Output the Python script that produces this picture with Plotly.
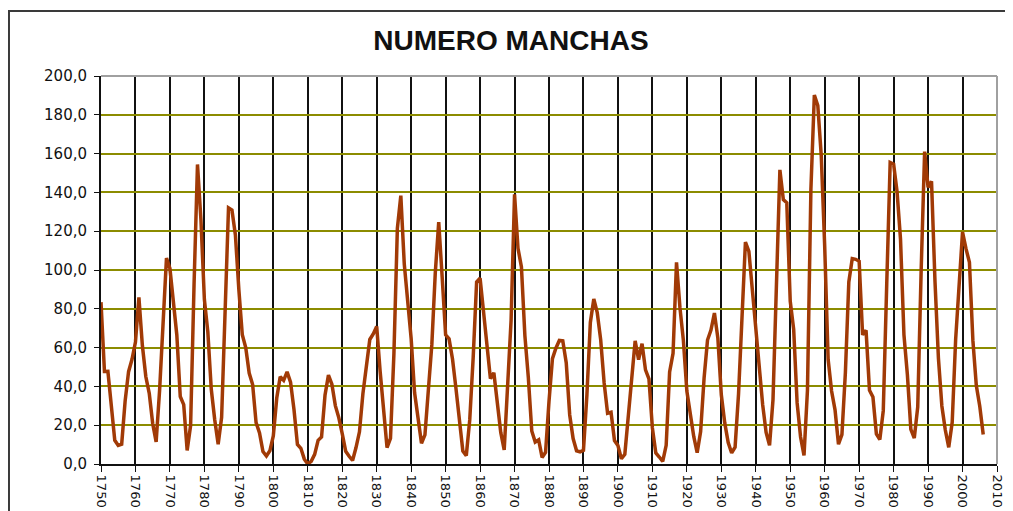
import plotly.graph_objects as go

# ───────────────────────── DATA ─────────────────────────

years = list(range(1750, 2007))

manchas = [
    83.4, 47.7, 47.8, 30.7, 12.2, 9.6, 10.2, 32.4, 47.6, 54.0,      # 1750
    62.9, 85.9, 61.2, 45.1, 36.4, 20.9, 11.4, 37.8, 69.8, 106.1,    # 1760
    100.8, 81.6, 66.5, 34.8, 30.6, 7.0, 19.8, 92.5, 154.4, 125.9,   # 1770
    84.8, 68.1, 38.5, 22.8, 10.2, 24.1, 82.9, 132.0, 130.9, 118.1,  # 1780
    89.9, 66.6, 60.0, 46.9, 41.0, 21.3, 16.0, 6.4, 4.1, 6.8,        # 1790
    14.5, 34.0, 45.0, 43.1, 47.5, 42.2, 28.1, 10.1, 8.1, 2.5,       # 1800
    0.0, 1.4, 5.0, 12.2, 13.9, 35.4, 45.8, 41.1, 30.1, 23.9,        # 1810
    15.6, 6.6, 4.0, 1.8, 8.5, 16.6, 36.3, 49.6, 64.2, 67.0,         # 1820
    70.9, 47.8, 27.5, 8.5, 13.2, 56.9, 121.5, 138.3, 103.2, 85.7,   # 1830
    64.6, 36.7, 24.2, 10.7, 15.0, 40.1, 61.5, 98.5, 124.7, 96.3,    # 1840
    66.6, 64.5, 54.1, 39.0, 20.6, 6.7, 4.3, 22.7, 54.8, 93.8,       # 1850
    95.8, 77.2, 59.1, 44.0, 47.0, 30.5, 16.3, 7.3, 37.6, 74.0,      # 1860
    139.0, 111.2, 101.6, 66.2, 44.7, 17.0, 11.3, 12.4, 3.4, 6.0,    # 1870
    32.3, 54.3, 59.7, 63.7, 63.5, 52.2, 25.4, 13.1, 6.8, 6.3,       # 1880
    7.1, 35.6, 73.0, 85.1, 78.0, 64.0, 41.8, 26.2, 26.7, 12.1,      # 1890
    9.5, 2.7, 5.0, 24.4, 42.0, 63.5, 53.8, 62.0, 48.5, 43.9,        # 1900
    18.6, 5.7, 3.6, 1.4, 9.6, 47.4, 57.1, 103.9, 80.6, 63.6,        # 1910
    37.6, 26.1, 14.2, 5.8, 16.7, 44.3, 63.9, 69.0, 77.8, 64.9,      # 1920
    35.7, 21.2, 11.1, 5.7, 8.7, 36.1, 79.7, 114.4, 109.6, 88.8,     # 1930
    67.8, 47.5, 30.6, 16.3, 9.6, 33.2, 92.6, 151.6, 136.3, 134.7,   # 1940
    83.9, 69.4, 31.5, 13.9, 4.4, 38.0, 141.7, 190.2, 184.8, 159.0,  # 1950
    112.3, 53.9, 37.6, 27.9, 10.2, 15.1, 47.0, 93.8, 105.9, 105.5,  # 1960
    104.5, 66.6, 68.9, 38.0, 34.5, 15.5, 12.6, 27.5, 92.5, 155.4,   # 1970
    154.6, 140.4, 115.9, 66.6, 45.9, 17.9, 13.4, 29.4, 100.2, 161.0,  # 1980
    142.6, 145.7, 94.3, 54.6, 29.9, 17.5, 8.6, 21.5, 64.3, 93.3,    # 1990
    119.6, 111.0, 104.0, 63.7, 40.4, 29.8, 15.2,                    # 2000
]

x_ticks = list(range(1750, 2011, 10))
y_ticks = list(range(0, 201, 20))

# ───────────────────────── CHART ─────────────────────────

FONT = "DejaVu Sans, Liberation Sans, Arial, sans-serif"

fig = go.Figure()

fig.add_trace(go.Scatter(
    x=years,
    y=manchas,
    mode="lines",
    name="Manchas",
    line=dict(color="#A13A06", width=3.5),
    showlegend=False
))

fig.update_layout(
    width=1013,
    height=511,
    paper_bgcolor="white",
    plot_bgcolor="white",
    separators=",.",
    font=dict(family=FONT, color="#111", size=12),
    margin=dict(l=93, r=24, t=68, b=55),
    title=dict(
        text="<b>NUMERO MANCHAS</b>",
        x=0.4965,
        xanchor="center",
        y=0.937,
        yanchor="middle",
        font=dict(family="Liberation Sans, Arial, sans-serif", size=28, color="#111")
    ),
    xaxis=dict(
        range=[1750, 2010],
        tickvals=x_ticks,
        tickangle=90,
        showgrid=True,
        gridcolor="#111111",
        gridwidth=2,
        showline=True,
        linecolor="#111111",
        linewidth=2,
        ticks="outside",
        ticklen=6,
        tickcolor="#111111",
        zeroline=False,
        tickfont=dict(size=13, color="#111")
    ),
    yaxis=dict(
        range=[0, 200],
        tickvals=y_ticks,
        tickformat=".1f",
        showgrid=True,
        gridcolor="#8C8C00",
        gridwidth=2,
        showline=True,
        linecolor="#111111",
        linewidth=2,
        ticks="outside",
        ticklen=5,
        tickcolor="#111111",
        zeroline=False,
        ticklabelstandoff=4,
        tickfont=dict(size=15, color="#111")
    )
)

# plot area border (top / right) in gray
fig.add_shape(type="line", xref="paper", yref="paper",
              x0=0, x1=1, y0=1, y1=1, line=dict(color="#A0A0A0", width=2))
fig.add_shape(type="line", xref="paper", yref="paper",
              x0=1, x1=1, y0=0, y1=1, line=dict(color="#A0A0A0", width=2))

# outer chart frame
fig.add_shape(type="rect", xref="paper", yref="paper",
              x0=-0.1027, x1=1.0123, y0=-0.3, y1=1.1675,
              line=dict(color="#3A3A3A", width=2), layer="below")

fig.write_html("out.html")
